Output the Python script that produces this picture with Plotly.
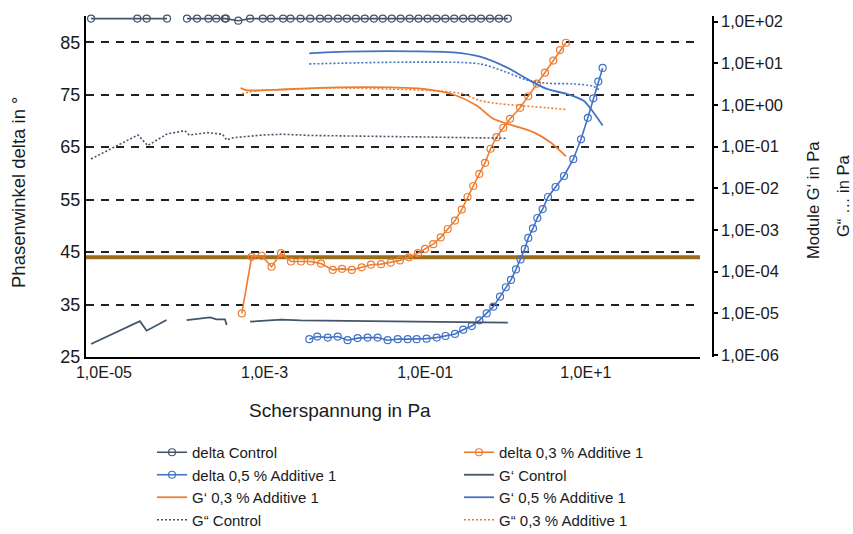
import plotly.graph_objects as go

# ---------------- data (x = Scherspannung in Pa) ----------------
DELTA_CTRL_X = [6.9e-6, 2.6e-5, 3.4e-5, 6.1e-5, 8.5e-5, 1.08e-4, 1.44e-4, 2.0e-4, 2.5e-4, 3.2e-4,
                3.3e-4, 4.7e-4, 6.6e-4, 9.5e-4, 1.2e-3, 1.7e-3, 2.1e-3, 2.8e-3, 3.7e-3, 4.9e-3,
                6.2e-3, 8.2e-3, 1.06e-2, 1.37e-2, 1.77e-2, 2.30e-2, 2.96e-2, 3.83e-2, 4.94e-2, 6.4e-2,
                8.26e-2, 0.107, 0.138, 0.178, 0.230, 0.297, 0.384, 0.495, 0.64, 0.828, 1.07]
DELTA_CTRL_Y = [89.5, 89.5, 89.5, 89.5, None, 89.5, 89.5, 89.5, 89.5, 89.5,
                89.5, 89.1, 89.5, 89.5, 89.5, 89.5, 89.5, 89.5, 89.5, 89.5,
                89.5, 89.5, 89.5, 89.5, 89.5, 89.5, 89.5, 89.5, 89.5, 89.5,
                89.5, 89.5, 89.5, 89.5, 89.5, 89.5, 89.5, 89.5, 89.5, 89.5, 89.5]

DELTA_03_X = [5.2e-4, 6.9e-4, 9.2e-4, 1.22e-3, 1.60e-3, 2.13e-3, 2.84e-3, 3.75e-3, 5.04e-3, 7.05e-3,
              9.2e-3, 1.22e-2, 1.62e-2, 2.11e-2, 2.82e-2, 3.72e-2, 4.85e-2, 6.28e-2, 8.13e-2, 9.95e-2,
              0.126, 0.156, 0.191, 0.235, 0.285, 0.337, 0.397, 0.472, 0.556, 0.650,
              0.773, 0.940, 1.14, 1.52, 1.92, 2.45, 3.10, 3.94, 4.77, 5.66]
DELTA_03_Y = [33.3, 44.1, 44.3, 42.2, 44.8, 43.2, 43.2, 43.2, 42.8, 41.6,
              41.8, 41.6, 42.1, 42.6, 42.7, 43.0, 43.4, 44.0, 44.8, 45.6,
              46.5, 47.8, 49.4, 51.0, 53.1, 55.5, 57.6, 59.9, 62.0, 64.7,
              66.9, 68.7, 70.4, 72.5, 74.7, 77.1, 79.2, 81.5, 83.5, 84.9]

DELTA_05_X = [3.61e-3, 4.53e-3, 6.11e-3, 8.13e-3, 1.08e-2, 1.44e-2, 1.92e-2, 2.56e-2, 3.41e-2, 4.55e-2,
              6.05e-2, 7.83e-2, 0.104, 0.139, 0.179, 0.235, 0.298, 0.379, 0.472, 0.583,
              0.705, 0.855, 1.01, 1.17, 1.35, 1.54, 1.74, 1.92, 2.20, 2.49,
              2.90, 3.38, 4.20, 5.35, 6.98, 8.71, 10.6, 12.4, 14.3, 16.2]
DELTA_05_Y = [28.4, 28.9, 28.7, 28.9, 28.2, 28.6, 28.7, 28.7, 28.2, 28.4,
              28.4, 28.4, 28.5, 28.7, 29.0, 29.4, 30.2, 30.9, 32.0, 33.3,
              34.6, 36.5, 38.3, 39.7, 41.7, 43.6, 45.6, 47.7, 49.5, 51.5,
              53.2, 55.5, 57.4, 59.5, 62.7, 66.5, 70.6, 74.3, 77.5, 80.1]

GP_CTRL_X = [6.9e-6, 2.8e-5, 3.4e-5, 6.0e-5, 8.5e-5, 1.07e-4, 2.09e-4, 2.53e-4, 3.21e-4, 3.37e-4,
             4.7e-4, 6.6e-4, 1.6e-3, 2.8e-3, 1.54e-2, 8.6e-2, 1.07]
GP_CTRL_Y = [1.84e-6, 6.5e-6, 3.83e-6, 6.9e-6, None, 6.9e-6, 8.0e-6, 7.2e-6, 7.2e-6, 5.25e-6,
             None, 6.3e-6, 7.1e-6, 6.8e-6, 6.5e-6, 6.2e-6, 5.96e-6]

GP_03_X = [5.03e-4, 5.70e-4, 7.98e-4, 1.56e-3, 7.91e-3, 3.65e-2, 9.46e-2, 0.224, 0.437, 0.705,
           1.25, 2.22, 3.58, 5.66]
GP_03_Y = [2.58, 2.31, 2.23, 2.35, 2.66, 2.66, 2.44, 1.79, 0.97, 0.467,
           0.322, 0.223, 0.129, 0.0585]

GP_05_X = [3.6e-3, 1.05e-2, 7.11e-2, 0.222, 0.481, 1.035, 1.84, 3.26, 5.78, 9.31, 12.4, 16.2]
GP_05_Y = [17.4, 19.1, 19.5, 18.4, 14.5, 8.0, 4.25, 2.44, 1.85, 1.28, 0.673, 0.323]

GPP_CTRL_X = [6.9e-6, 2.65e-5, 3.5e-5, 6.1e-5, 1.02e-4, 1.15e-4, 1.96e-4, 2.99e-4, 3.37e-4, 4.05e-4,
              9.5e-4, 1.7e-3, 3.7e-3, 1.54e-2, 9.9e-2, 1.05]
GPP_CTRL_Y = [0.0507, 0.191, 0.106, 0.202, 0.242, 0.191, 0.217, 0.199, 0.145, 0.164,
              0.191, 0.199, 0.186, 0.181, 0.171, 0.159]

GPP_03_X = [5.2e-4, 7.98e-4, 1.56e-3, 7.91e-3, 3.65e-2, 0.115, 0.271, 0.481, 0.855, 1.52, 3.26, 5.78]
GPP_03_Y = [1.85, 2.23, 2.35, 2.56, 2.41, 2.23, 1.92, 1.28, 1.07, 0.97, 0.86, 0.78]

GPP_05_X = [3.6e-3, 7.11e-2, 0.481, 1.035, 1.84, 3.26, 6.98, 12.4, 15.0]
GPP_05_Y = [9.7, 10.7, 9.7, 6.1, 4.0, 3.33, 3.22, 2.82, 2.23]

REF_DELTA = 44.0

X_TICKS = [1e-5, 1e-3, 1e-1, 1e1]
X_TICKTEXT = ["1,0E-05", "1,0E-3", "1,0E-01", "1,0E+1"]
Y_TICKS = [25, 35, 45, 55, 65, 75, 85]
Y2_TICKS = [1e-6, 1e-5, 1e-4, 1e-3, 1e-2, 1e-1, 1e0, 1e1, 1e2]
Y2_TICKTEXT = ["1,0E-06", "1,0E-05", "1,0E-04", "1,0E-03", "1,0E-02",
               "1,0E-01", "1,0E+00", "1,0E+01", "1,0E+02"]

# ---------------- style ----------------
SLATE = "#44546A"
BLUE = "#4472C4"
ORANGE = "#ED7D31"
GOLD = "#9A6D1B"
FONT = "Liberation Sans, Arial, sans-serif"
TXT = "#1a1a1a"
W, H = 853, 534
DOTTED = "2px,2px"

fig = go.Figure()


def delta_trace(x, y, name, color, legend):
    return go.Scatter(x=x, y=y, name=name, mode="lines+markers", connectgaps=False,
                      line=dict(color=color, width=1.6),
                      marker=dict(symbol="circle-open", size=7, color=color, line=dict(width=1.2)),
                      cliponaxis=False, legend=legend)


def mod_trace(x, y, name, color, dash, legend, show=True, shape="spline"):
    return go.Scatter(x=x, y=y, name=name, mode="lines", yaxis="y2", connectgaps=False,
                      line=dict(color=color, width=1.8 if dash == "solid" else 1.6, dash=dash,
                                shape=shape, smoothing=0.8),
                      showlegend=show, legend=legend)


# column 1 of the legend
fig.add_trace(delta_trace(DELTA_CTRL_X, DELTA_CTRL_Y, "delta Control", SLATE, "legend"))
fig.add_trace(delta_trace(DELTA_05_X, DELTA_05_Y, "delta 0,5 % Additive 1", BLUE, "legend"))
fig.add_trace(mod_trace(GP_03_X, GP_03_Y, "G‘ 0,3 % Additive 1", ORANGE, "solid", "legend"))
fig.add_trace(mod_trace(GPP_CTRL_X, GPP_CTRL_Y, "G“ Control", SLATE, DOTTED, "legend", shape="linear"))
# column 2 of the legend
fig.add_trace(delta_trace(DELTA_03_X, DELTA_03_Y, "delta 0,3 % Additive 1", ORANGE, "legend2"))
fig.add_trace(mod_trace(GP_CTRL_X, GP_CTRL_Y, "G‘ Control", SLATE, "solid", "legend2", shape="linear"))
fig.add_trace(mod_trace(GP_05_X, GP_05_Y, "G‘ 0,5 % Additive 1", BLUE, "solid", "legend2"))
fig.add_trace(mod_trace(GPP_03_X, GPP_03_Y, "G“ 0,3 % Additive 1", ORANGE, DOTTED, "legend2"))
fig.add_trace(mod_trace(GPP_05_X, GPP_05_Y, "G“ 0,5 % Additive 1", BLUE, DOTTED, "legend2", show=False))

fig.add_hline(y=REF_DELTA, line=dict(color=GOLD, width=4), layer="below")

legend_common = dict(orientation="v", xanchor="left", yanchor="top", traceorder="normal",
                     xref="container", yref="container",
                     font=dict(size=15, family=FONT, color=TXT), bgcolor="rgba(0,0,0,0)",
                     itemwidth=30)

fig.update_layout(
    width=W, height=H,
    margin=dict(l=86, r=140, t=16, b=177, autoexpand=False),
    paper_bgcolor="white", plot_bgcolor="white",
    font=dict(family=FONT, color=TXT, size=14),
    xaxis=dict(type="log", range=[-5.224, 2.422], domain=[0, 614 / 627],
               tickvals=X_TICKS, ticktext=X_TICKTEXT, ticks="",
               showgrid=False, zeroline=False,
               showline=True, linecolor="black", linewidth=2,
               tickfont=dict(size=16, family=FONT, color=TXT)),
    yaxis=dict(range=[25, 90], tickvals=Y_TICKS, ticks="",
               showgrid=True, gridcolor="#222", gridwidth=1.5, griddash="8px,7px",
               zeroline=False, showline=True, linecolor="black", linewidth=2,
               tickfont=dict(size=18, family=FONT, color=TXT)),
    yaxis2=dict(type="log", range=[-6.048, 2.137], overlaying="y", side="right",
                anchor="free", position=1.0,
                tickvals=Y2_TICKS, ticktext=Y2_TICKTEXT, ticks="outside", ticklen=4,
                tickcolor="black", tickwidth=1.5,
                showgrid=False, zeroline=False, showline=True, linecolor="black", linewidth=1.5,
                tickfont=dict(size=16.5, family=FONT, color=TXT)),
    legend=dict(x=152 / W, y=1 - 436 / H, **legend_common),
    legend2=dict(x=459 / W, y=1 - 436 / H, **legend_common),
    showlegend=True,
)

fig.add_annotation(text="Scherspannung in Pa", xref="paper", yref="paper",
                   x=(340 - 86) / 627, y=(357 - 410) / 341, showarrow=False,
                   xanchor="center", yanchor="middle",
                   font=dict(size=19, family=FONT, color=TXT))
fig.add_annotation(text="Phasenwinkel delta in °", xref="paper", yref="paper",
                   x=(18 - 86) / 627, y=(357 - 192) / 341, showarrow=False, textangle=-90,
                   xanchor="center", yanchor="middle",
                   font=dict(size=18.5, family=FONT, color=TXT))
fig.add_annotation(text="Module G‘ in Pa", xref="paper", yref="paper",
                   x=(813 - 86) / 627, y=(357 - 200) / 341, showarrow=False, textangle=-90,
                   xanchor="center", yanchor="middle",
                   font=dict(size=16.5, family=FONT, color=TXT))
fig.add_annotation(text="G“ … in Pa", xref="paper", yref="paper",
                   x=(843 - 86) / 627, y=(357 - 196) / 341, showarrow=False, textangle=-90,
                   xanchor="center", yanchor="middle",
                   font=dict(size=16.5, family=FONT, color=TXT))

fig.write_html("out.html")
